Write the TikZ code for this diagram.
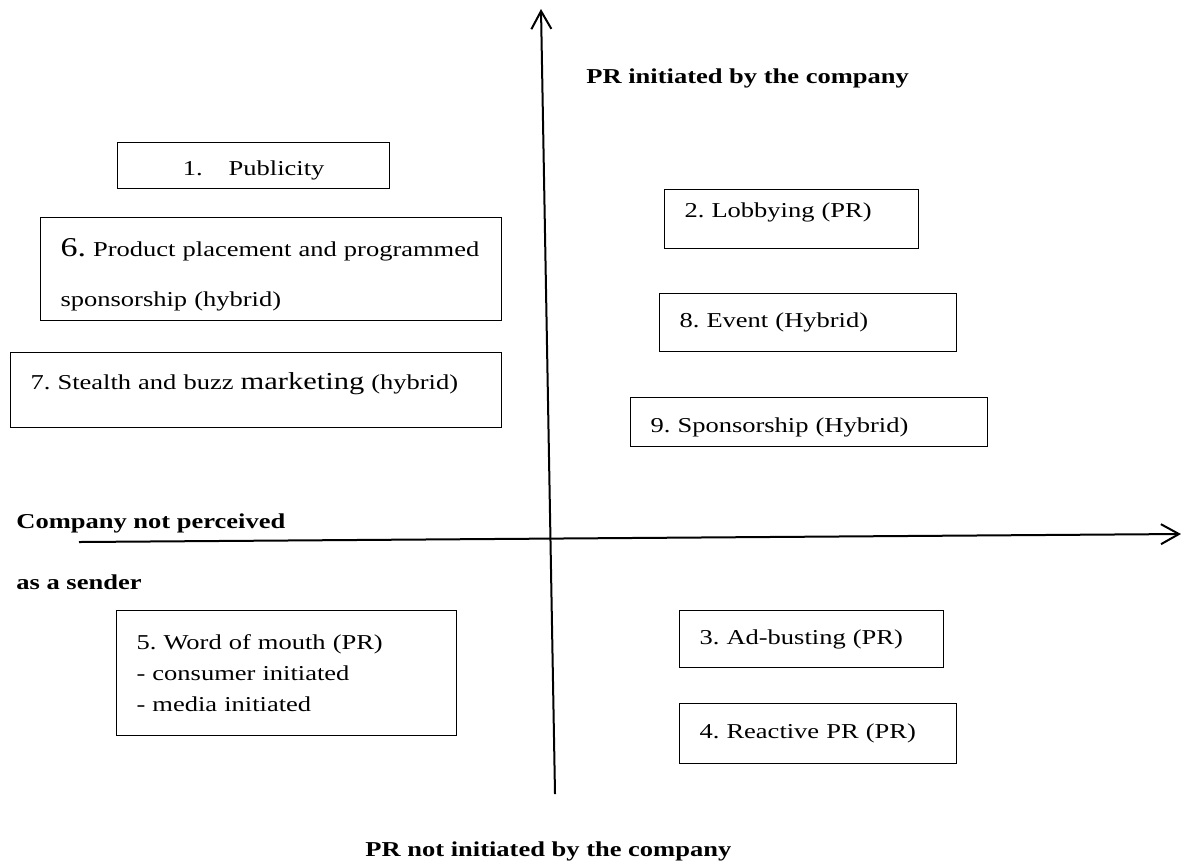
\documentclass[tikz,border=0pt]{standalone}
\usepackage{fontspec}
\setmainfont{Liberation Serif}[FakeStretch=1.25]
\usetikzlibrary{arrows.meta,positioning}
\frenchspacing

\begin{document}
\begin{tikzpicture}[
    x=0.5pt, y=-0.5pt,
    every node/.style={font=\fontsize{10.6pt}{15.5pt}\selectfont},
    tool/.style={rectangle, draw=black, line width=0.6pt, anchor=north west, inner xsep=10pt, inner ysep=0pt, align=left},
    heading/.style={anchor=base west, inner sep=0pt, font=\fontsize{10.6pt}{15.5pt}\selectfont\bfseries},
    axisarrow/.style={-{Straight Barb[length=9pt,width=10pt]}, line width=1pt}
]
\useasboundingbox (0,0) rectangle (1187,864);

% Axes
\coordinate (ybot) at (555,794);
\coordinate (ytop) at (541,9);
\coordinate (xleft) at (79,542);
\coordinate (xright) at (1181,534);
\draw[axisarrow] (ybot) -- (ytop);
\draw[axisarrow] (xleft) -- (xright);

% Axis labels
\node[heading] (initiated) at (586,83) {PR initiated by the company};
\node[heading] (notinitiated) at (365,856) {PR not initiated by the company};
\node[heading] (perceived) at (16,528) {Company not perceived};
\node[heading] (sender) at (16,589) {as a sender};

% Upper left quadrant
\node[tool, align=center, text width=116pt, minimum height=23pt, text height=12.2pt] (publicity) at (117,142) {1.\hspace{13pt}Publicity};
\node[tool, text width=210.5pt, minimum height=51.5pt, font=\fontsize{10.6pt}{25pt}\selectfont] (placement) at (40,217)
    {\mbox{\rule{0pt}{15pt}{\fontsize{13.6pt}{25pt}\selectfont 6.} Product placement and programmed}\\sponsorship (hybrid)};
\node[tool, text width=225.5pt, minimum height=37.5pt, text depth=9.5pt] (stealth) at (10,352)
    {7. Stealth and buzz {\fontsize{12.2pt}{15.5pt}\selectfont marketing} (hybrid)};

% Upper right quadrant
\node[tool, text width=107pt, minimum height=29.5pt, text depth=9.3pt] (lobbying) at (664,189) {2. Lobbying (PR)};
\node[tool, text width=128.5pt, minimum height=29pt] (event) at (659,293) {8. Event (Hybrid)};
\node[tool, text width=158.5pt, minimum height=24.5pt, text height=13pt] (sponsor) at (630,397) {9. Sponsorship (Hybrid)};

% Lower left quadrant
\node[tool, text width=150pt, minimum height=62.5pt] (mouth) at (116,610)
    {5. Word of mouth (PR)\\- consumer initiated\\- media initiated};

% Lower right quadrant
\node[tool, text width=112pt, minimum height=28.5pt] (adbusting) at (679,610) {3. Ad-busting (PR)};
\node[tool, text width=118.5pt, minimum height=30pt] (reactive) at (679,703) {4. Reactive PR (PR)};

\end{tikzpicture}
\end{document}
